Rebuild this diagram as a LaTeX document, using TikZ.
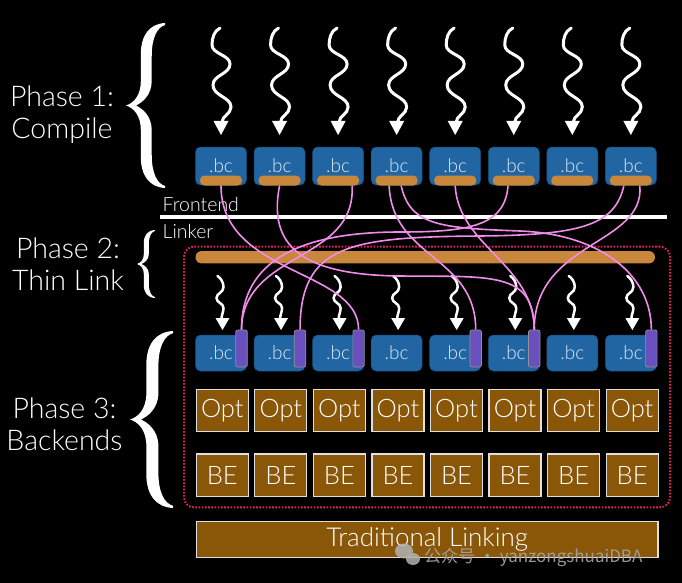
\documentclass[tikz,border=0pt]{standalone}
\usepackage{fontspec}
\setmainfont{Lato Light}
\newfontfamily\cjk{Noto Sans CJK SC}
\usetikzlibrary{arrows.meta}
\definecolor{bcblue}{HTML}{2166A3}
\definecolor{pillc}{HTML}{C8873A}
\definecolor{brownfill}{HTML}{8A5709}
\definecolor{purp}{HTML}{6A4FBF}
\definecolor{reddot}{HTML}{E3245A}
\definecolor{pinkc}{HTML}{F28CEB}
\definecolor{bctext}{HTML}{DCE9F5}

\newcommand{\curlybrace}[4]{%
 \pgfmathsetmacro{\bxt}{#1}\pgfmathsetmacro{\bxr}{#2}\pgfmathsetmacro{\byt}{#3}\pgfmathsetmacro{\byb}{#4}%
 \pgfmathsetmacro{\bw}{\bxr-\bxt}\pgfmathsetmacro{\ba}{(\byb-\byt)/2}\pgfmathsetmacro{\bym}{(\byb+\byt)/2}%
 \pgfmathsetmacro{\bsl}{\bxt+0.38*\bw}\pgfmathsetmacro{\bsr}{\bxt+0.66*\bw}%
 \fill[white] (\bxr,\byt) .. controls ({\bxr-0.4*\bw},{\byt+0.01*\ba}) and (\bsl,{\byt+0.15*\ba}) .. (\bsl,{\byt+0.38*\ba})
  -- (\bsl,{\bym-0.3*\ba}) .. controls (\bsl,{\bym-0.12*\ba}) and ({\bxt+0.2*\bw},{\bym-0.03*\ba}) .. (\bxt,\bym)
  .. controls ({\bxt+0.2*\bw},{\bym+0.03*\ba}) and (\bsl,{\bym+0.12*\ba}) .. (\bsl,{\bym+0.3*\ba})
  -- (\bsl,{\byb-0.38*\ba}) .. controls (\bsl,{\byb-0.15*\ba}) and ({\bxr-0.4*\bw},{\byb-0.01*\ba}) .. (\bxr,\byb)
  -- (\bxr,{\byb-0.025*\ba}) .. controls ({\bxr-0.2*\bw},{\byb-0.05*\ba}) and (\bsr,{\byb-0.18*\ba}) .. (\bsr,{\byb-0.4*\ba})
  -- (\bsr,{\bym+0.3*\ba}) .. controls (\bsr,{\bym+0.12*\ba}) and ({\bxt+0.4*\bw},{\bym+0.03*\ba}) .. ({\bxt+0.25*\bw},\bym)
  .. controls ({\bxt+0.4*\bw},{\bym-0.03*\ba}) and (\bsr,{\bym-0.12*\ba}) .. (\bsr,{\bym-0.3*\ba})
  -- (\bsr,{\byt+0.4*\ba}) .. controls (\bsr,{\byt+0.18*\ba}) and ({\bxr-0.2*\bw},{\byt+0.05*\ba}) .. (\bxr,{\byt+0.025*\ba}) -- cycle;}

\newcommand{\bigwave}[1]{%
 \draw[wave] ({#1-1},28) .. controls ({#1-7},31) and ({#1-9},38) .. ({#1-9},45)
   .. controls ({#1-9},54) and ({#1+9},55) .. ({#1+9},64)
   .. controls ({#1+9},74) and ({#1-8},75) .. ({#1-8},85)
   .. controls ({#1-8},96) and ({#1+10},97) .. ({#1+10},107)
   .. controls ({#1+10},114) and ({#1+1},116) .. ({#1+1},122);
 \fill[white] ({#1-7.5},121) -- ({#1+7.5},121) -- (#1,135) -- cycle;}

\newcommand{\smallwave}[1]{%
 \draw[wave, line width=2.5pt] ({#1-5},276) .. controls ({#1-2},278) and ({#1+1},282) .. ({#1+1},287)
   .. controls ({#1+1},293) and ({#1-6},293) .. ({#1-6},298)
   .. controls ({#1-6},303) and ({#1+1},303) .. ({#1+1},308)
   .. controls ({#1+1},312) and ({#1-1},315) .. ({#1-1},319);
 \fill[white] ({#1-7},318) -- ({#1+7},318) -- (#1,330) -- cycle;}

\begin{document}
\begin{tikzpicture}[x=1pt,y=-1pt,
  bcbox/.style={draw=bcblue!75!black, line width=0.5pt, fill=bcblue, rounded corners=5pt,
     minimum width=51pt, minimum height=38pt, inner sep=0pt, text=bctext, font=\fontsize{19}{19}\selectfont},
  pillshape/.style={fill=pillc, rounded corners=4.5pt, minimum width=42pt, minimum height=10pt, inner sep=0pt},
  purpbar/.style={fill=purp, draw=gray!85, line width=0.7pt, rounded corners=2pt,
     minimum width=11.5pt, minimum height=37pt, inner sep=0pt},
  brownbox/.style={fill=brownfill, draw=gray!25, line width=1.2pt, minimum width=52pt,
     minimum height=42.5pt, inner sep=0pt, text=white, font=\fontsize{25.5}{25.5}\selectfont},
  link/.style={pinkc, line width=1.6pt},
  wave/.style={white, line width=3pt, line cap=round},
  phase/.style={text=white, align=center, font=\fontsize{28.5}{32}\selectfont, inner sep=0pt},
  smalltext/.style={text=white, anchor=west, inner sep=0pt, font=\fontsize{19.5}{19.5}\selectfont}]

\fill[black] (0,0) rectangle (682,583);
\useasboundingbox (0,0) rectangle (682,583);

% braces and phase labels
\curlybrace{126}{165}{23}{188}
\curlybrace{137}{155}{230}{298}
\curlybrace{130}{173}{331}{508}
\node[phase] (ph1) at (62,115) {Phase 1:\\Compile};
\node[phase] (ph2) at (68,264) {Phase 2:\\Thin Link};
\node[phase] (ph3) at (64.5,424) {Phase 3:\\Backends};

% phase 1: compile
\foreach \i in {1,...,8} {
  \pgfmathsetmacro{\cx}{221+58.55*(\i-1)}
  \bigwave{\cx}
  \node[bcbox] (t\i) at (\cx,166) {.bc};
  \node[pillshape] (p\i) at (\cx,180.5) {};
}

% frontend / linker separation
\coordinate (sepL) at (160,217);
\coordinate (sepR) at (666.5,217);
\draw[white, line width=3.5pt] (sepL) -- (sepR);
\node[smalltext] (fe) at (162.5,204.5) {Frontend};
\node[smalltext] (lk) at (162.5,231) {Linker};

% thin-link region
\node[draw=reddot, dash pattern=on 1.6pt off 1.6pt, line width=2pt, rounded corners=10pt,
      minimum width=486pt, minimum height=260.6pt, inner sep=0pt] (region) at (427,377) {};
\node[fill=pillc, rounded corners=6pt, minimum width=459.5pt, minimum height=12.3pt, inner sep=0pt] (bar) at (425.25,257.2) {};

% phase 3: backends
\foreach \i in {1,...,8} {
  \pgfmathsetmacro{\cx}{221+58.55*(\i-1)}
  \smallwave{\cx+1.5}
  \node[bcbox, minimum height=36pt] (b\i) at (\cx,353) {.bc};
  \node[brownbox] (o\i) at (\cx+1.3,410.5) {Opt};
  \node[brownbox] (e\i) at (\cx+1.3,475.3) {BE};
}
\foreach \i in {1,2,3,5,6,8} {
  \pgfmathsetmacro{\cx}{221+58.55*(\i-1)+20.5}
  \node[purpbar] (u\i) at (\cx,348.5) {};
}

% thin link import edges
\draw[link] (p1.south) .. controls +(0,90) and +(0,-61) .. (u3.north);
\draw[link] (p2.south) .. controls (268,245) and (300,275) .. (400,276)
   .. controls (490,277) and +(0,-59) .. (u6.north);
\draw[link] ([xshift=14pt]p3.south) .. controls +(4,77) and +(1,-79) .. (u1.north);
\draw[link] ([xshift=-7.5pt]p4.south) .. controls +(3,73) and +(0,-74) .. (u5.north);
\draw[link] ([xshift=4.5pt]p4.south) .. controls +(9,40) and (440,228) .. (520,231)
   .. controls (600,234) and +(0,-55) .. (u8.north);
\draw[link] (p5.south) .. controls +(3,60) and +(0,-65) .. (u6.north);
\draw[link] ([xshift=-5.75pt]p6.south) .. controls +(-3,40) and (470,232) .. (400,232)
   .. controls (300,232) and +(0,-69) .. (u1.north);
\draw[link] ([xshift=-7pt]p8.south) .. controls +(-9,40) and (580,235) .. (480,236)
   .. controls (350,237) and +(0,-85) .. (u2.north);
\draw[link] ([xshift=9pt]p8.south) .. controls +(5,60) and +(0,-89) .. (u6.north);

% traditional linking
\node[brownbox, minimum width=461.5pt, minimum height=36pt, font=\fontsize{26}{26}\selectfont] (trad) at (427.25,539.7) {Traditional Linking};

% watermark
\fill[gray!60, opacity=0.85] (404,551) ellipse (9 and 7.5);
\fill[gray!60, opacity=0.85] (413,559) ellipse (7 and 6);
\node[anchor=west, text=gray!70, opacity=0.9, inner sep=0pt, font=\cjk\fontsize{17}{17}\selectfont] (wm) at (424,557) {公众号 · yanzongshuaiDBA};
\end{tikzpicture}
\end{document}
